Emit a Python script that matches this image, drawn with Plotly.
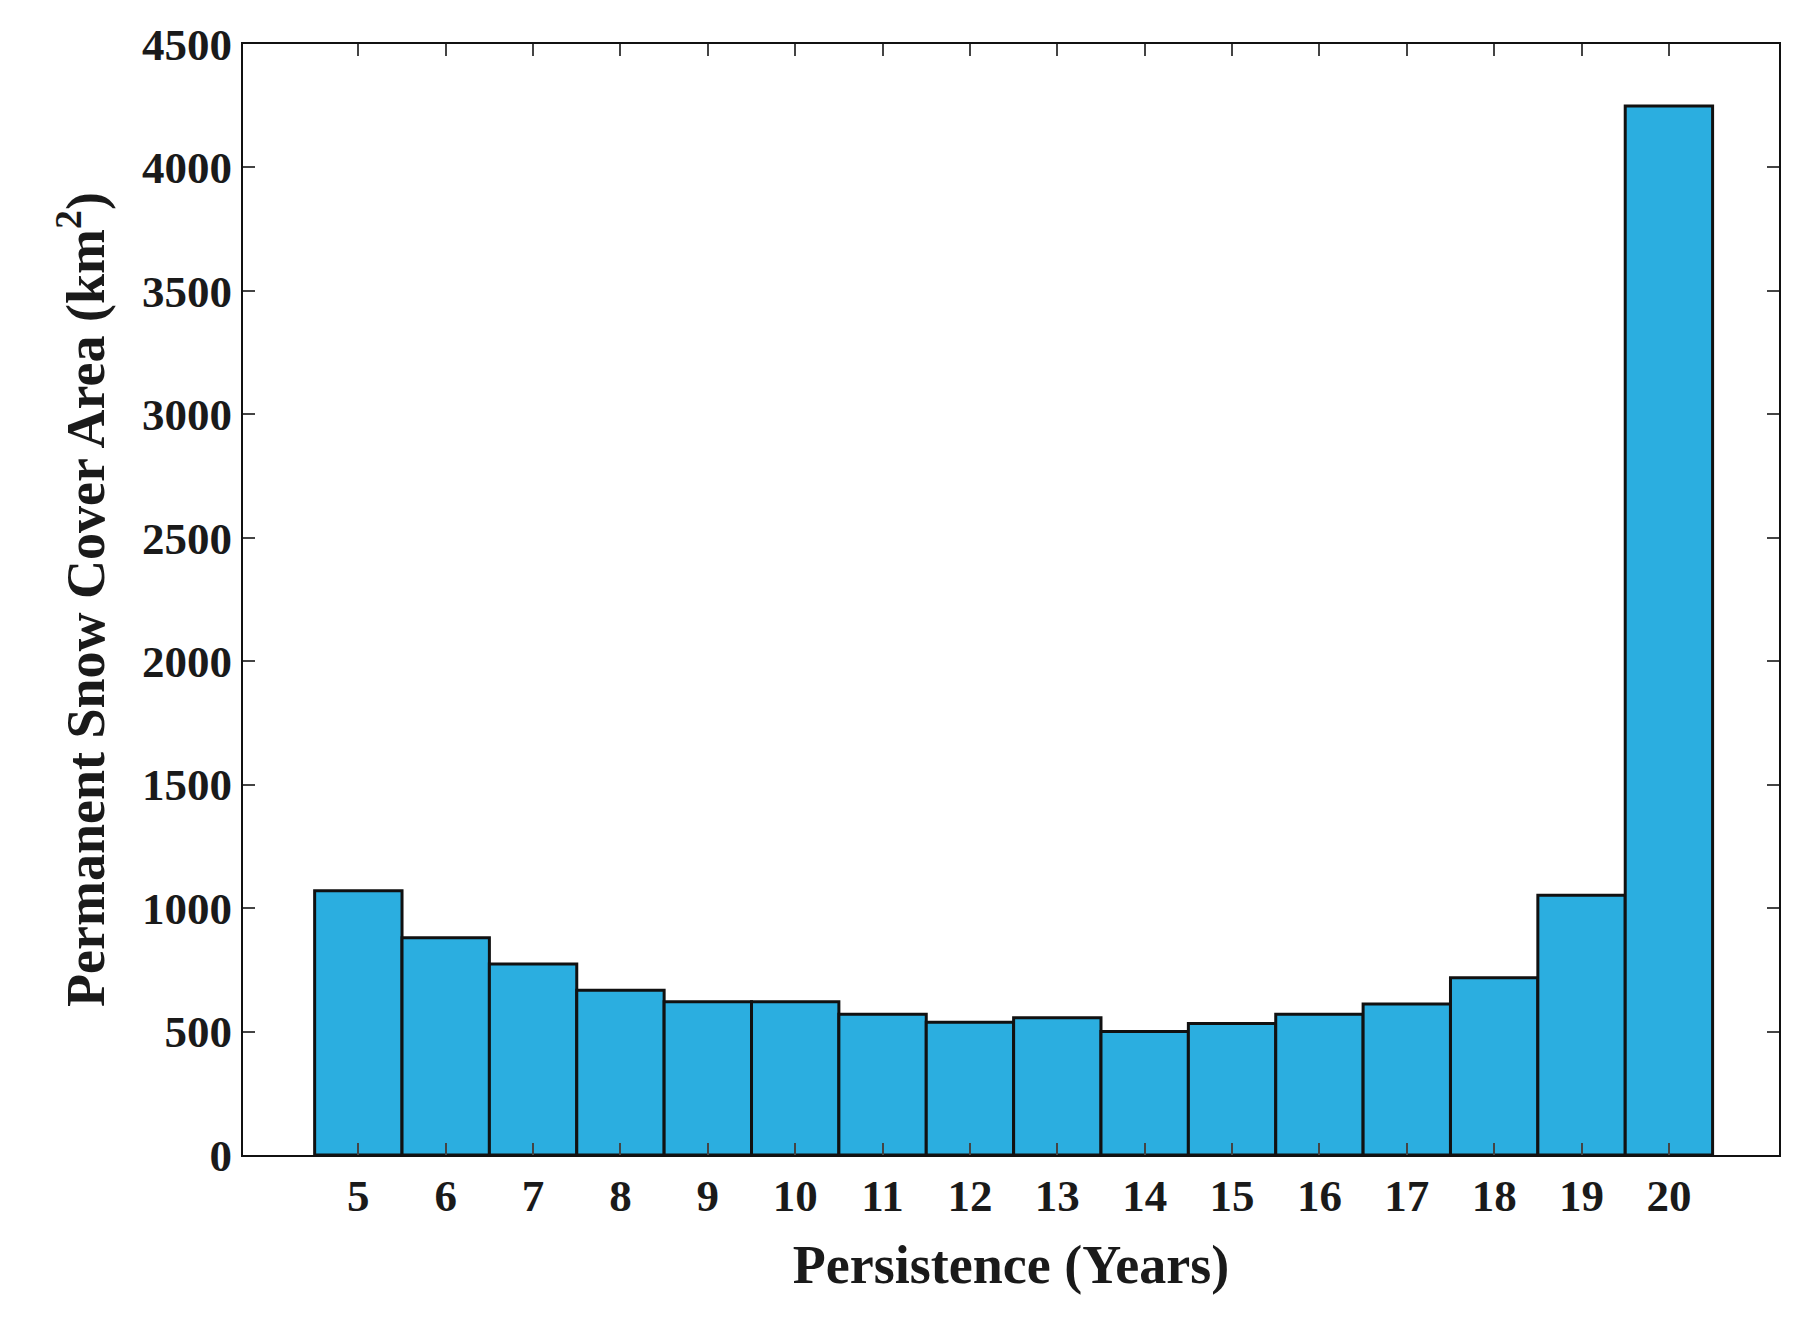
import plotly.graph_objects as go

years = list(range(5, 21))
area = [1070, 880, 774, 667, 621, 621, 570, 538, 556, 500, 533, 570, 612, 718, 1052, 4249]
xtick_labels = [str(y) for y in years]
ytick_vals = list(range(0, 4501, 500))

fig = go.Figure(go.Bar(
    x=years, y=area, width=1,
    marker=dict(color="#2BAEE0", line=dict(color="#111111", width=3)),
))
font = dict(family="Liberation Serif, Times New Roman, serif", size=45, color="#1a1a1a")
fig.update_layout(
    width=1805, height=1330, plot_bgcolor="white", paper_bgcolor="white",
    margin=dict(l=235, r=34, t=30, b=183), showlegend=False,
    font=font,
)
fig.update_xaxes(range=[3.68, 21.26], tickvals=years, ticktext=["<b>%s</b>" % t for t in xtick_labels],
                 ticks="inside", ticklen=12, tickwidth=2, mirror="ticks", showline=True,
                 linecolor="#111", linewidth=2, showgrid=False,
                 title=dict(text="<b>Persistence (Years)</b>", standoff=25))
fig.update_yaxes(range=[0, 4500], tickvals=ytick_vals, ticktext=["<b>%d</b>" % v for v in ytick_vals],
                 ticks="inside", ticklen=12, tickwidth=2, mirror="ticks", showline=True,
                 linecolor="#111", linewidth=2, showgrid=False, zeroline=False,
                 title=dict(text="<b>Permanent Snow Cover Area (km<sup>2</sup>)</b>", standoff=20))
fig.write_html("out.html")
